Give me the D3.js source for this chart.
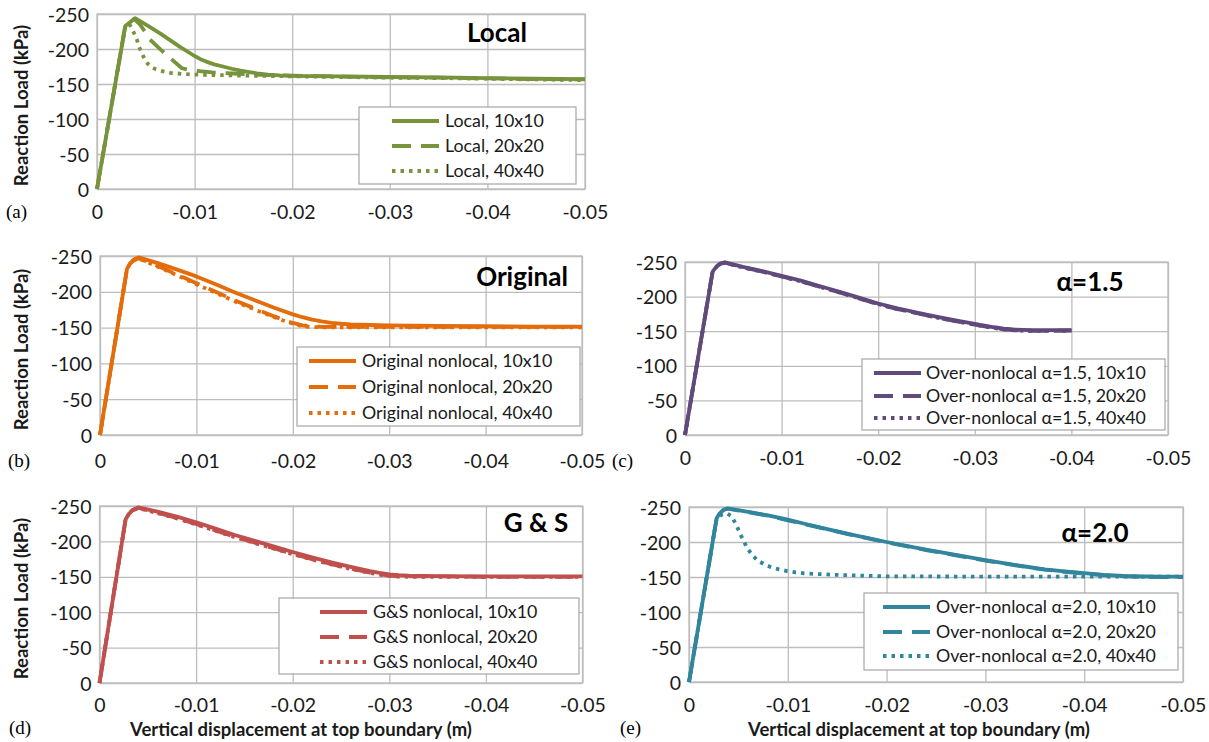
<!DOCTYPE html>
<html>
<head>
<meta charset="utf-8">
<script src="https://cdn.jsdelivr.net/npm/d3@7"></script>
<style>
  html, body { margin: 0; padding: 0; background: #fff; }
  svg { display: block; }
</style>
</head>
<body>
<svg id="fig" width="1209" height="742"></svg>
<script>
// ---- axis ticks ----
const xTicks = [0, -0.01, -0.02, -0.03, -0.04, -0.05];
const xTickLabels = ["0", "-0.01", "-0.02", "-0.03", "-0.04", "-0.05"];
const yTicks = [0, -50, -100, -150, -200, -250];
const yTickLabels = ["0", "-50", "-100", "-150", "-200", "-250"];

// ---- (a) local model: [displacement (m), reaction load (kPa)] ----
const local10 = [[0,0],[-0.0029,-233],[-0.0039,-244],[-0.0051,-234],[-0.0065,-222],[-0.0085,-203],[-0.01,-190],[-0.0106,-185.5],[-0.0112,-182],[-0.012,-178],[-0.0129,-175],[-0.0138,-171.8],[-0.0147,-169],[-0.0156,-167],[-0.0164,-165.3],[-0.0175,-163.5],[-0.0187,-162.3],[-0.02,-161.7],[-0.025,-161],[-0.03,-160],[-0.035,-159.5],[-0.04,-158.5],[-0.045,-157.5],[-0.05,-157]];
const local20 = [[0,0],[-0.0029,-233],[-0.0038,-243],[-0.0044,-235],[-0.0049,-225],[-0.0054,-214],[-0.0065,-199.5],[-0.0075,-187],[-0.0087,-172.5],[-0.0094,-170.3],[-0.01,-169],[-0.0118,-166.5],[-0.014,-165],[-0.017,-163],[-0.02,-162],[-0.025,-160.5],[-0.03,-159.5],[-0.035,-159],[-0.04,-158],[-0.045,-157],[-0.05,-156.5]];
const local40 = [[0,0],[-0.0029,-233],[-0.0033,-236],[-0.00355,-229.5],[-0.0038,-222.5],[-0.0041,-213],[-0.0043,-203.5],[-0.0046,-194],[-0.005,-182],[-0.0053,-177.5],[-0.0056,-174],[-0.006,-171.2],[-0.0065,-169],[-0.0075,-166],[-0.0088,-164.3],[-0.0102,-163.3],[-0.015,-162],[-0.02,-161],[-0.025,-160],[-0.03,-159],[-0.035,-158.5],[-0.04,-157.5],[-0.045,-156.5],[-0.05,-155.5]];

// ---- (b) original nonlocal ----
const orig10 = [[0,0],[-0.0028,-232],[-0.0031,-239],[-0.0035,-245],[-0.004,-248],[-0.006,-240],[-0.008,-231],[-0.01,-221.5],[-0.012,-210.5],[-0.014,-199],[-0.016,-188.5],[-0.018,-178],[-0.02,-168.5],[-0.021,-164.5],[-0.022,-161.2],[-0.023,-158.6],[-0.024,-156.7],[-0.025,-155.4],[-0.026,-154.6],[-0.028,-153.6],[-0.03,-153],[-0.035,-152.5],[-0.04,-152],[-0.045,-151.5],[-0.05,-151.5]];
const orig20 = [[0,0],[-0.0028,-232],[-0.0031,-239],[-0.0035,-244],[-0.004,-247],[-0.006,-236],[-0.008,-224],[-0.01,-212],[-0.012,-200],[-0.014,-188],[-0.016,-177],[-0.018,-166],[-0.019,-161],[-0.02,-156.5],[-0.021,-153],[-0.022,-151.5],[-0.023,-151],[-0.03,-151],[-0.04,-151],[-0.05,-151]];
const orig40 = [[0,0],[-0.0028,-232],[-0.0031,-239],[-0.0035,-244],[-0.004,-246.5],[-0.006,-235],[-0.008,-223],[-0.01,-210.5],[-0.012,-198.5],[-0.014,-186.5],[-0.016,-175.5],[-0.018,-165],[-0.019,-160],[-0.02,-155.5],[-0.021,-152],[-0.022,-150.8],[-0.023,-150.5],[-0.03,-150.5],[-0.04,-150.5],[-0.05,-150.5]];

// ---- (c) over-nonlocal, alpha = 1.5 ----
const a15m10 = [[0,0],[-0.00286,-236],[-0.0033,-244],[-0.0037,-248],[-0.0041,-249.5],[-0.006,-243],[-0.008,-237],[-0.01,-230],[-0.012,-223],[-0.014,-215],[-0.016,-207],[-0.018,-198.5],[-0.02,-190],[-0.022,-183],[-0.024,-177],[-0.026,-171],[-0.028,-165.5],[-0.03,-160.5],[-0.031,-158],[-0.032,-155.7],[-0.033,-153.8],[-0.034,-152.6],[-0.035,-151.9],[-0.036,-151.5],[-0.038,-151.5],[-0.04,-151.5]];
const a15m20 = [[0,0],[-0.00286,-236],[-0.0033,-244],[-0.0037,-247.5],[-0.0041,-249],[-0.006,-242.5],[-0.008,-236],[-0.01,-229],[-0.012,-222],[-0.014,-214],[-0.016,-206],[-0.018,-197.5],[-0.02,-189],[-0.022,-182],[-0.024,-176],[-0.026,-170],[-0.028,-164.5],[-0.03,-159.5],[-0.031,-157],[-0.032,-154.7],[-0.033,-152.8],[-0.034,-151.6],[-0.035,-150.9],[-0.036,-150.5],[-0.038,-150.5],[-0.04,-151]];
const a15m40 = [[0,0],[-0.00286,-236],[-0.0033,-243.5],[-0.0037,-247],[-0.0041,-249],[-0.006,-242],[-0.008,-236],[-0.01,-229],[-0.012,-222],[-0.014,-214],[-0.016,-206],[-0.018,-197.5],[-0.02,-189],[-0.022,-182],[-0.024,-176],[-0.026,-170],[-0.028,-164.5],[-0.03,-159.5],[-0.031,-157],[-0.032,-154.5],[-0.033,-152.6],[-0.034,-151.4],[-0.035,-150.7],[-0.036,-150.5],[-0.038,-150.5],[-0.04,-150.5]];

// ---- (d) G&S nonlocal ----
const gs10 = [[0,0],[-0.0027,-231],[-0.003,-238],[-0.0034,-244],[-0.004,-248],[-0.006,-242],[-0.008,-235],[-0.01,-227],[-0.012,-218],[-0.014,-209],[-0.016,-201],[-0.018,-193],[-0.02,-185],[-0.022,-177.5],[-0.024,-170.5],[-0.026,-164],[-0.028,-158],[-0.029,-155.5],[-0.03,-153.5],[-0.031,-152.3],[-0.032,-151.5],[-0.035,-151],[-0.04,-150.5],[-0.05,-150.5]];
const gs20 = [[0,0],[-0.0027,-231],[-0.003,-238],[-0.0034,-244],[-0.004,-247.5],[-0.006,-240.5],[-0.008,-233],[-0.01,-224.5],[-0.012,-215.5],[-0.014,-206.5],[-0.016,-198.5],[-0.018,-190.5],[-0.02,-182.5],[-0.022,-175],[-0.024,-168],[-0.026,-161.5],[-0.028,-156],[-0.029,-153.5],[-0.03,-151.7],[-0.031,-150.8],[-0.032,-150.5],[-0.035,-150.5],[-0.04,-150],[-0.05,-150]];
const gs40 = [[0,0],[-0.0027,-231],[-0.003,-238],[-0.0034,-243.5],[-0.004,-247],[-0.006,-240],[-0.008,-232.5],[-0.01,-224],[-0.012,-215],[-0.014,-206],[-0.016,-198],[-0.018,-190],[-0.02,-182],[-0.022,-174.5],[-0.024,-167.5],[-0.026,-161],[-0.028,-155.5],[-0.029,-153],[-0.03,-151.2],[-0.031,-150.4],[-0.032,-150],[-0.035,-150],[-0.04,-150],[-0.05,-150]];

// ---- (e) over-nonlocal, alpha = 2.0 ----
const a20m10 = [[0,0],[-0.0028,-234],[-0.0031,-241],[-0.0035,-246],[-0.0039,-248],[-0.006,-243],[-0.008,-238],[-0.01,-232],[-0.012,-225],[-0.014,-218.5],[-0.016,-212],[-0.018,-206],[-0.02,-200],[-0.022,-194.5],[-0.024,-189],[-0.026,-184],[-0.028,-179],[-0.03,-174],[-0.032,-169.5],[-0.034,-165],[-0.036,-161],[-0.038,-158],[-0.04,-155.5],[-0.042,-153],[-0.044,-151.5],[-0.046,-150.7],[-0.048,-150.5],[-0.05,-150.5]];
const a20m20 = [[0,0],[-0.0028,-234],[-0.0031,-241],[-0.0035,-246],[-0.0039,-247.5],[-0.006,-242.5],[-0.008,-237.5],[-0.01,-231],[-0.012,-224.5],[-0.014,-218],[-0.016,-211.5],[-0.018,-205.5],[-0.02,-199.5],[-0.022,-194],[-0.024,-188.5],[-0.026,-183.5],[-0.028,-178.5],[-0.03,-173.5],[-0.032,-169],[-0.034,-164.5],[-0.036,-160.5],[-0.038,-157.5],[-0.04,-155],[-0.042,-152.5],[-0.044,-151],[-0.046,-150.2],[-0.048,-150],[-0.05,-150]];
const a20m40 = [[0,0],[-0.0028,-234],[-0.0033,-239],[-0.0038,-241],[-0.0043,-237],[-0.0048,-224],[-0.0053,-208],[-0.0059,-191],[-0.0064,-181.5],[-0.0069,-174],[-0.0076,-168.3],[-0.0083,-164],[-0.0091,-161],[-0.0099,-158.5],[-0.0108,-156.5],[-0.0118,-155],[-0.015,-153],[-0.02,-151],[-0.03,-150.5],[-0.04,-150.5],[-0.05,-150.5]];

// ---- styles ----
const FONT = "Lato, 'Open Sans', sans-serif";
const gridColor = "#bdbdbd";
const textColor = "#1a1a1a";
const lineWidth = 3.8;
const dashStyles = [null, "19,10", "3.5,5"];

// ---- panel layout ----
const panels = [
  { key: "a", series: [local10, local20, local40], color: "#77933c",
    names: ["Local, 10x10", "Local, 20x20", "Local, 40x40"],
    left: 97, right: 585, top: 14, bottom: 189, xLabelY: 212,
    legend: { x: 359, y: 107, w: 217, h: 77, rows: [121, 146, 171], sx: 392, tx: 445 },
    title: { text: "Local", cx: 497, cy: 33 },
    tag: { text: "(a)", x: 6, y: 212 }, yTitle: true, xTitle: false },
  { key: "b", series: [orig10, orig20, orig40], color: "#e46c0a",
    names: ["Original nonlocal, 10x10", "Original nonlocal, 20x20", "Original nonlocal, 40x40"],
    left: 100, right: 582, top: 256, bottom: 435, xLabelY: 461,
    legend: { x: 297, y: 347, w: 283, h: 79, rows: [361, 387, 413], sx: 309, tx: 362 },
    title: { text: "Original", cx: 522, cy: 277 },
    tag: { text: "(b)", x: 8, y: 461 }, yTitle: true, xTitle: false },
  { key: "c", series: [a15m10, a15m20, a15m40], color: "#604a7b",
    names: ["Over-nonlocal \u03b1=1.5, 10x10", "Over-nonlocal \u03b1=1.5, 20x20", "Over-nonlocal \u03b1=1.5, 40x40"],
    left: 685, right: 1168, top: 262, bottom: 435, xLabelY: 458,
    legend: { x: 862, y: 359, w: 303, h: 71, rows: [373, 396, 418], sx: 874, tx: 926 },
    title: { text: "\u03b1=1.5", cx: 1090, cy: 282 },
    tag: { text: "(c)", x: 612, y: 461 }, yTitle: false, xTitle: false },
  { key: "d", series: [gs10, gs20, gs40], color: "#c0504d",
    names: ["G&S nonlocal, 10x10", "G&S nonlocal, 20x20", "G&S nonlocal, 40x40"],
    left: 99.5, right: 582.5, top: 506, bottom: 683, xLabelY: 705,
    legend: { x: 279, y: 598, w: 300, h: 76, rows: [612, 637, 662], sx: 320, tx: 373 },
    title: { text: "G & S", cx: 536, cy: 523 },
    tag: { text: "(d)", x: 9, y: 728 }, yTitle: true, xTitle: true, xTitleX: 301 },
  { key: "e", series: [a20m10, a20m20, a20m40], color: "#31859c",
    names: ["Over-nonlocal \u03b1=2.0, 10x10", "Over-nonlocal \u03b1=2.0, 20x20", "Over-nonlocal \u03b1=2.0, 40x40"],
    left: 689, right: 1183, top: 507, bottom: 682, xLabelY: 705,
    legend: { x: 864, y: 593, w: 314, h: 77, rows: [607, 632, 656], sx: 883, tx: 936 },
    title: { text: "\u03b1=2.0", cx: 1095, cy: 533 },
    tag: { text: "(e)", x: 620, y: 728 }, yTitle: false, xTitle: true, xTitleX: 919 }
];

const svg = d3.select("#fig");
svg.append("rect").attr("width", 1209).attr("height", 742).attr("fill", "#fff");

function styleSeries(sel, i, color) {
  sel.attr("fill", "none")
    .attr("stroke", color)
    .attr("stroke-width", lineWidth)
    .attr("stroke-linejoin", "round")
    .attr("stroke-dasharray", dashStyles[i]);
}

panels.forEach(p => {
  const g = svg.append("g").attr("class", "panel panel-" + p.key);
  const x = d3.scaleLinear().domain([0, -0.05]).range([p.left, p.right]);
  const y = d3.scaleLinear().domain([0, -250]).range([p.bottom, p.top]);
  const w = p.right - p.left, h = p.bottom - p.top;

  // gridlines
  g.append("g")
    .attr("transform", `translate(0,${p.bottom})`)
    .call(d3.axisBottom(x).tickValues(xTicks).tickSize(-h).tickFormat(""))
    .call(s => s.select(".domain").remove())
    .selectAll("line").attr("stroke", gridColor).attr("stroke-width", 1.3);
  g.append("g")
    .attr("transform", `translate(${p.left},0)`)
    .call(d3.axisLeft(y).tickValues(yTicks).tickSize(-w).tickFormat(""))
    .call(s => s.select(".domain").remove())
    .selectAll("line").attr("stroke", gridColor).attr("stroke-width", 1.3);
  g.append("rect")
    .attr("x", p.left).attr("y", p.top).attr("width", w).attr("height", h)
    .attr("fill", "none").attr("stroke", gridColor).attr("stroke-width", 1.3);

  // tick labels
  const xa = g.append("g")
    .attr("transform", `translate(0,${p.xLabelY})`)
    .call(d3.axisBottom(x).tickValues(xTicks).tickSize(0).tickPadding(0)
      .tickFormat((d, i) => xTickLabels[i]));
  xa.select(".domain").remove();
  xa.selectAll("text").attr("y", 0).attr("dy", "0.36em")
    .attr("font-family", FONT).attr("font-size", 19.5).attr("fill", textColor);

  const ya = g.append("g")
    .attr("transform", `translate(${p.left},0)`)
    .call(d3.axisLeft(y).tickValues(yTicks).tickSize(0).tickPadding(8)
      .tickFormat((d, i) => yTickLabels[i]));
  ya.select(".domain").remove();
  ya.selectAll("text").attr("dy", "0.36em")
    .attr("font-family", FONT).attr("font-size", 19.5).attr("fill", textColor);

  // curves
  const line = d3.line().x(d => x(d[0])).y(d => y(d[1])).curve(d3.curveLinear);
  p.series.forEach((s, i) => {
    g.append("path").datum(s).attr("d", line).call(styleSeries, i, p.color);
  });

  // legend
  const L = p.legend;
  g.append("rect").attr("x", L.x).attr("y", L.y).attr("width", L.w).attr("height", L.h)
    .attr("fill", "#fff").attr("stroke", "#a6a6a6").attr("stroke-width", 1.2);
  p.names.forEach((name, i) => {
    g.append("line")
      .attr("x1", L.sx).attr("x2", L.sx + 47).attr("y1", L.rows[i]).attr("y2", L.rows[i])
      .call(styleSeries, i, p.color);
    g.append("text").attr("x", L.tx).attr("y", L.rows[i]).attr("dy", "0.36em")
      .attr("font-family", FONT).attr("font-size", 17.8).attr("fill", textColor)
      .text(name);
  });

  // panel title
  g.append("text").attr("x", p.title.cx).attr("y", p.title.cy).attr("dy", "0.36em")
    .attr("text-anchor", "middle").attr("font-family", FONT).attr("font-weight", 700)
    .attr("font-size", 26).attr("fill", "#000").text(p.title.text);

  // panel tag
  g.append("text").attr("x", p.tag.x).attr("y", p.tag.y).attr("dy", "0.33em")
    .attr("font-family", "'Liberation Serif', 'Times New Roman', serif")
    .attr("font-size", 19).attr("fill", "#000").text(p.tag.text);

  // axis titles
  if (p.yTitle) {
    const cy = (p.top + p.bottom) / 2 + 4;
    g.append("text")
      .attr("transform", `translate(21,${cy}) rotate(-90)`)
      .attr("text-anchor", "middle").attr("dy", "0.36em")
      .attr("font-family", FONT).attr("font-weight", 700).attr("font-size", 18.5)
      .attr("fill", textColor).text("Reaction Load (kPa)");
  }
  if (p.xTitle) {
    g.append("text").attr("x", p.xTitleX).attr("y", 729).attr("dy", "0.36em")
      .attr("text-anchor", "middle")
      .attr("font-family", FONT).attr("font-weight", 700).attr("font-size", 18.5)
      .attr("fill", textColor).text("Vertical displacement at top boundary (m)");
  }
});
</script>
</body>
</html>
